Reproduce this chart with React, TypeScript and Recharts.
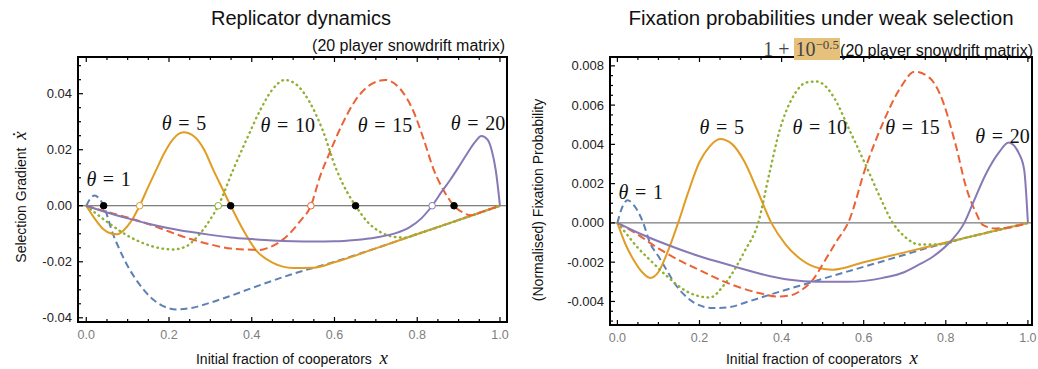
import React from "react";
import { LineChart, Line, XAxis, YAxis, ReferenceLine, ReferenceDot } from "recharts";

type Pt = [number, number];

const thetas = [1, 5, 10, 15, 20];

// Replicator dynamics (left panel), [x, selection gradient]
const repTheta1: Pt[] = [
  [0, 0], [0.01, 0.0026], [0.02, 0.0037], [0.03, 0.0028], [0.042, 0], [0.064, -0.0099],
  [0.081, -0.0158], [0.1, -0.0215], [0.12, -0.0263], [0.14, -0.0302], [0.16, -0.0333],
  [0.18, -0.0354], [0.2, -0.0366], [0.22, -0.037], [0.25, -0.0366], [0.3, -0.0346],
  [0.35, -0.0321], [0.4, -0.0294], [0.5, -0.0243], [0.6, -0.0200], [0.7, -0.0152],
  [0.8, -0.0101], [0.9, -0.0051], [1, 0],
];
const repTheta5: Pt[] = [
  [0, 0], [0.02, -0.0045], [0.04, -0.0082], [0.06, -0.0099], [0.075, -0.0102], [0.09, -0.0088],
  [0.11, -0.0052], [0.129, 0], [0.15, 0.0068], [0.169, 0.0128], [0.19, 0.0192], [0.21, 0.0238],
  [0.235, 0.0262], [0.26, 0.0248], [0.285, 0.02], [0.307, 0.0128], [0.33, 0.0058], [0.349, 0],
  [0.38, -0.0088], [0.41, -0.0158], [0.45, -0.0203], [0.5, -0.0222], [0.55, -0.0221],
  [0.6, -0.0202], [0.7, -0.0152], [0.8, -0.0101], [0.9, -0.0051], [1, 0],
];
const repTheta10: Pt[] = [
  [0, 0], [0.03, -0.0035], [0.06, -0.0068], [0.1, -0.0107], [0.14, -0.0135], [0.18, -0.0152],
  [0.21, -0.0156], [0.24, -0.0146], [0.27, -0.0108], [0.3, -0.0048], [0.319, 0], [0.355, 0.0128],
  [0.39, 0.0245], [0.42, 0.034], [0.45, 0.0415], [0.48, 0.0449], [0.51, 0.043], [0.54, 0.037],
  [0.57, 0.0275], [0.605, 0.0128], [0.63, 0.005], [0.651, 0], [0.68, -0.0058], [0.71, -0.0093],
  [0.74, -0.011], [0.77, -0.0114], [0.8, -0.0101], [0.9, -0.0051], [1, 0],
];
const repTheta15: Pt[] = [
  [0, 0], [0.05, -0.0022], [0.1, -0.0042], [0.15, -0.0065], [0.2, -0.0092], [0.25, -0.0118],
  [0.3, -0.0138], [0.35, -0.0153], [0.4, -0.0157], [0.42, -0.0158], [0.44, -0.015], [0.48, -0.0115],
  [0.517, -0.0055], [0.543, 0], [0.565, 0.0104], [0.59, 0.0195], [0.62, 0.0295], [0.65, 0.0375],
  [0.69, 0.0435], [0.723, 0.0449], [0.76, 0.0415], [0.79, 0.034], [0.815, 0.024], [0.84, 0.0128],
  [0.865, 0.0052], [0.889, 0], [0.91, -0.0024], [0.93, -0.0034], [0.96, -0.002], [1, 0],
];
const repTheta20: Pt[] = [
  [0, 0], [0.05, -0.0024], [0.1, -0.0045], [0.15, -0.0064], [0.2, -0.008], [0.25, -0.0093],
  [0.3, -0.0104], [0.35, -0.0113], [0.4, -0.0119], [0.45, -0.0124], [0.5, -0.0127], [0.55, -0.0128],
  [0.6, -0.0127], [0.65, -0.0122], [0.7, -0.0113], [0.75, -0.0097], [0.78, -0.0078], [0.81, -0.0045],
  [0.836, 0], [0.86, 0.0052], [0.88, 0.0093], [0.9, 0.0138], [0.92, 0.0185], [0.94, 0.0228],
  [0.955, 0.0249], [0.97, 0.0236], [0.98, 0.0198], [0.99, 0.0125], [1, 0],
];

// Fixation probabilities (right panel), [x, normalised fixation probability]
const fixTheta1: Pt[] = [
  [0, 0], [0.01, 0.0007], [0.025, 0.00115], [0.04, 0.0009], [0.063, 0], [0.079, -0.001],
  [0.1, -0.0017], [0.12, -0.0024], [0.14, -0.0031], [0.16, -0.0036], [0.19, -0.0041],
  [0.233, -0.00434], [0.27, -0.0043], [0.32, -0.004], [0.38, -0.0036], [0.476, -0.003],
  [0.54, -0.0026], [0.606, -0.0022], [0.687, -0.0017], [0.768, -0.0012], [0.85, -0.00075],
  [0.92, -0.0004], [1, 0],
];
const fixTheta5: Pt[] = [
  [0, 0], [0.02, -0.0011], [0.04, -0.0019], [0.06, -0.0025], [0.08, -0.0028], [0.1, -0.0025],
  [0.12, -0.0016], [0.148, 0], [0.17, 0.0014], [0.2, 0.0031], [0.225, 0.0039], [0.25, 0.00427],
  [0.28, 0.004], [0.31, 0.0031], [0.34, 0.0017], [0.375, 0], [0.41, -0.0011], [0.45, -0.0019],
  [0.49, -0.0023], [0.525, -0.00238], [0.6, -0.002], [0.7, -0.0015], [0.8, -0.001],
  [0.9, -0.0005], [1, 0],
];
const fixTheta10: Pt[] = [
  [0, 0], [0.02, -0.0005], [0.047, -0.0012], [0.08, -0.0019], [0.12, -0.0027], [0.17, -0.0035],
  [0.225, -0.0038], [0.262, -0.0031], [0.311, -0.0014], [0.343, 0], [0.37, 0.0025], [0.395, 0.0047],
  [0.43, 0.0065], [0.46, 0.00715], [0.485, 0.0072], [0.51, 0.0069], [0.53, 0.0063], [0.566, 0.0047],
  [0.606, 0.0029], [0.64, 0.0013], [0.671, 0], [0.7, -0.0007], [0.736, -0.0011], [0.78, -0.0011],
  [0.85, -0.00075], [0.92, -0.0004], [1, 0],
];
const fixTheta15: Pt[] = [
  [0, 0], [0.05, -0.0006], [0.1, -0.0013], [0.15, -0.0019], [0.2, -0.0024], [0.25, -0.0029],
  [0.3, -0.0033], [0.35, -0.0036], [0.387, -0.00375], [0.42, -0.0037], [0.45, -0.0034],
  [0.476, -0.0029], [0.509, -0.0018], [0.535, -0.0009], [0.562, 0], [0.606, 0.0029],
  [0.647, 0.0051], [0.69, 0.0069], [0.724, 0.0077], [0.76, 0.0074], [0.785, 0.0066],
  [0.825, 0.0039], [0.849, 0.00185], [0.874, 0.0005], [0.89, -0.0001], [0.92, -0.00028],
  [0.95, -0.00025], [1, 0],
];
const fixTheta20: Pt[] = [
  [0, 0], [0.05, -0.0005], [0.12, -0.0011], [0.2, -0.0017], [0.282, -0.0022], [0.35, -0.0026],
  [0.42, -0.0029], [0.485, -0.003], [0.56, -0.003], [0.647, -0.0028], [0.7, -0.0025],
  [0.728, -0.0022], [0.77, -0.0017], [0.809, -0.001], [0.845, 0], [0.866, 0.001], [0.898, 0.0025],
  [0.93, 0.0036], [0.953, 0.0041], [0.979, 0.0035], [0.991, 0.0027], [1, 0],
];

// equilibria on the zero line (left panel)
const repStable = [0.042, 0.349, 0.651, 0.889];
const repUnstable = [0.129, 0.319, 0.543, 0.836];

// theta label anchors, data units
const repLabelX = [0.054, 0.236, 0.487, 0.722, 0.947];
const repLabelY = [0.0092, 0.0292, 0.0285, 0.0285, 0.0292];
const fixLabelX = [0.057, 0.254, 0.493, 0.719, 0.938];
const fixLabelY = [0.00153, 0.00483, 0.00483, 0.00483, 0.00438];

// ticks
const xMajor = [0, 0.2, 0.4, 0.6, 0.8, 1];
const repYMajor = [-0.04, -0.02, 0, 0.02, 0.04];
const fixYMajor = [-0.004, -0.002, 0, 0.002, 0.004, 0.006, 0.008];

const steps = (a: number, b: number, s: number) => {
  const out: number[] = [];
  const n = Math.round((b - a) / s);
  for (let i = 0; i <= n; i++) out.push(+(a + i * s).toFixed(6));
  return out;
};
const xTicks = steps(0, 1, 0.05);
const repYTicks = steps(-0.04, 0.05, 0.005);
const fixYTicks = steps(-0.005, 0.008, 0.0005);

const colors = ["#5e81b5", "#e19c24", "#8fb032", "#eb6235", "#8778b6"];
const dashes = ["7 4", undefined, "0.6 4.6", "8 4", undefined];
const caps: ("butt" | "round")[] = ["butt", "butt", "round", "butt", "butt"];

const SANS = '"Liberation Sans", Arial, Helvetica, sans-serif';
const SERIF = '"Liberation Serif", "Times New Roman", serif';

// recharts puts the tick text tickSize + tickMargin away from the axis line
const TICK_SIZE = 6;
const TICK_MARGIN = 2;
const OFF = TICK_SIZE + TICK_MARGIN;

const isIn = (v: number, list: number[]) => list.some((m) => Math.abs(m - v) < 1e-9);

function BottomTick(props: any) {
  const { x, y, payload, majors } = props;
  const major = isIn(payload.value, majors);
  const ay = Number(y) - OFF;
  return (
    <g>
      <line x1={x} x2={x} y1={ay} y2={ay - (major ? 5 : 3)} stroke="#000" strokeWidth={1.2} />
      {major && (
        <text x={x} y={ay + 17} textAnchor="middle" fontSize={12.5} fill="#7d7d7d" fontFamily={SANS}>
          {payload.value.toFixed(1)}
        </text>
      )}
    </g>
  );
}

function TopTick(props: any) {
  const { x, y, payload, majors } = props;
  const ay = Number(y) + OFF;
  return <line x1={x} x2={x} y1={ay} y2={ay + (isIn(payload.value, majors) ? 5 : 3)} stroke="#000" strokeWidth={1.2} />;
}

function LeftTick(props: any) {
  const { x, y, payload, majors, digits } = props;
  const major = isIn(payload.value, majors);
  const ax = Number(x) + OFF;
  return (
    <g>
      <line x1={ax} x2={ax + (major ? 5 : 3)} y1={y} y2={y} stroke="#000" strokeWidth={1.2} />
      {major && (
        <text x={ax - 6} y={y} dy="0.35em" textAnchor="end" fontSize={13} fill="#222" fontFamily={SANS}>
          {payload.value.toFixed(digits)}
        </text>
      )}
    </g>
  );
}

function RightTick(props: any) {
  const { x, y, payload, majors } = props;
  const ax = Number(x) - OFF;
  return <line x1={ax} x2={ax - (isIn(payload.value, majors) ? 5 : 3)} y1={y} y2={y} stroke="#000" strokeWidth={1.2} />;
}

function ThetaText({ cx, cy, n }: { cx: number; cy: number; n: number }) {
  return (
    <text x={cx} y={cy} dy="0.32em" textAnchor="middle" fontFamily={SERIF} fontSize={20} fill="#111">
      <tspan fontStyle="italic">θ</tspan>
      <tspan>{"\u2004=\u2004"}{n}</tspan>
    </text>
  );
}

// one table row per x value, one column per theta curve
function toRows(series: Pt[][]) {
  const byX = new Map<number, Record<string, number>>();
  series.forEach((s, i) =>
    s.forEach(([x, y]) => {
      const row = byX.get(x) ?? { x };
      row["s" + i] = y;
      byX.set(x, row);
    })
  );
  return [...byX.values()].sort((a, b) => a.x - b.x);
}

type PanelProps = {
  width: number;
  margin: { top: number; right: number; bottom: number; left: number };
  xDomain: [number, number];
  yDomain: [number, number];
  yTicks: number[];
  yMajor: number[];
  yDigits: number;
  yWidth: number;
  series: Pt[][];
  labelX: number[];
  labelY: number[];
  withDots?: boolean;
};

const frame = { stroke: "#000", strokeWidth: 2 };

function Panel(p: PanelProps) {
  const rows = toRows(p.series);
  return (
    <LineChart width={p.width} height={369} margin={p.margin} data={rows}>
      <XAxis
        dataKey="x" type="number" orientation="bottom" height={30}
        domain={p.xDomain} ticks={xTicks} interval={0}
        tickSize={TICK_SIZE} tickMargin={TICK_MARGIN} tickLine={false} axisLine={frame}
        tick={<BottomTick majors={xMajor} />}
      />
      <XAxis
        xAxisId="t" dataKey="x" type="number" orientation="top" height={30}
        domain={p.xDomain} ticks={xTicks} interval={0}
        tickSize={TICK_SIZE} tickMargin={TICK_MARGIN} tickLine={false} axisLine={frame}
        tick={<TopTick majors={xMajor} />}
      />
      <YAxis
        type="number" orientation="left" width={p.yWidth}
        domain={p.yDomain} ticks={p.yTicks} interval={0}
        tickSize={TICK_SIZE} tickMargin={TICK_MARGIN} tickLine={false} axisLine={frame}
        tick={<LeftTick majors={p.yMajor} digits={p.yDigits} />}
      />
      <YAxis
        yAxisId="r" type="number" orientation="right" width={6}
        domain={p.yDomain} ticks={p.yTicks} interval={0}
        tickSize={TICK_SIZE} tickMargin={TICK_MARGIN} tickLine={false} axisLine={frame}
        tick={<RightTick majors={p.yMajor} />}
      />
      <ReferenceLine y={0} stroke="#5a5a5a" strokeWidth={1} />
      {p.series.map((_, i) => (
        <Line
          key={thetas[i]}
          dataKey={"s" + i}
          connectNulls
          type="monotone"
          stroke={colors[i]}
          strokeWidth={i === 2 ? 2.4 : 2}
          strokeDasharray={dashes[i]}
          strokeLinecap={caps[i]}
          dot={false}
          activeDot={false}
          isAnimationActive={false}
        />
      ))}
      {p.withDots &&
        repUnstable.map((x, i) => (
          <ReferenceDot key={"u" + i} x={x} y={0} r={3.3} fill="#fff" stroke={colors[i + 1]} strokeWidth={1} />
        ))}
      {p.withDots &&
        repStable.map((x, i) => (
          <ReferenceDot key={"s" + i} x={x} y={0} r={3.3} fill="#000" stroke="#000" strokeWidth={1} />
        ))}
      {thetas.map((n, i) => (
        <ReferenceDot
          key={"l" + n} x={p.labelX[i]} y={p.labelY[i]} r={0} ifOverflow="visible"
          shape={(sp: any) => <ThetaText cx={sp.cx} cy={sp.cy} n={n} />}
        />
      ))}
    </LineChart>
  );
}

const abs = (s: React.CSSProperties): React.CSSProperties => ({ position: "absolute", whiteSpace: "nowrap", ...s });

// plot boxes that follow from the margins and axis sizes below
const box = (left: number, top: number, right: number, bottom: number): React.CSSProperties => ({
  position: "absolute",
  left: left - 1,
  top: top - 1,
  width: right - left + 2,
  height: bottom - top + 2,
  border: "2px solid #000",
  boxSizing: "border-box",
  pointerEvents: "none",
});

export default function App() {
  return (
    <div style={{ position: "absolute", left: 0, top: 0, width: 1038, height: 369, background: "#fff", overflow: "hidden", fontFamily: SANS, color: "#111" }}>
      <div style={abs({ left: 0, top: 0 })}>
        <Panel
          width={520}
          margin={{ top: 27, right: 7, bottom: 17, left: 18 }}
          xDomain={[-0.02, 1.017]}
          yDomain={[-0.0415, 0.0531]}
          yTicks={repYTicks}
          yMajor={repYMajor}
          yDigits={2}
          yWidth={60}
          series={[repTheta1, repTheta5, repTheta10, repTheta15, repTheta20]}
          labelX={repLabelX}
          labelY={repLabelY}
          withDots
        />
      </div>
      <div style={abs({ left: 520, top: 0 })}>
        <Panel
          width={518}
          margin={{ top: 27, right: 0, bottom: 14, left: 40 }}
          xDomain={[-0.018, 1.01]}
          yDomain={[-0.0052, 0.00845]}
          yTicks={fixYTicks}
          yMajor={fixYMajor}
          yDigits={3}
          yWidth={50}
          series={[fixTheta1, fixTheta5, fixTheta10, fixTheta15, fixTheta20]}
          labelX={fixLabelX}
          labelY={fixLabelY}
        />
      </div>

      {/* frame boxes: left plot 78..507 x 57..322, right plot 610..1032 x 57..325 */}
      <div style={box(78, 57, 507, 322)} />
      <div style={box(610, 57, 1032, 325)} />

      <div style={abs({ left: 301, top: 18, transform: "translate(-50%, -50%)", fontSize: 20 })}>Replicator dynamics</div>
      <div style={abs({ right: 533, top: 36, fontSize: 16, lineHeight: "19px" })}>(20 player snowdrift matrix)</div>

      <div style={abs({ left: 821, top: 18, transform: "translate(-50%, -50%)", fontSize: 20.5 })}>
        Fixation probabilities under weak selection
      </div>
      <div style={abs({ right: 5, top: 34, fontSize: 16, lineHeight: "22px" })}>
        <span style={{ fontFamily: SERIF, fontSize: 20, color: "#444" }}>
          1 + <span style={{ background: "#e6c17c", padding: "0 1px" }}>10<sup style={{ fontSize: 13, verticalAlign: "7px" }}>−0.5</sup></span>
        </span>
        (20 player snowdrift matrix)
      </div>

      <div style={abs({ left: 292, top: 358, transform: "translate(-50%, -50%)", fontSize: 14 })}>
        Initial fraction of cooperators&nbsp;&nbsp;<span style={{ fontFamily: SERIF, fontStyle: "italic", fontSize: 19 }}>x</span>
      </div>
      <div style={abs({ left: 822, top: 358, transform: "translate(-50%, -50%)", fontSize: 14 })}>
        Initial fraction of cooperators&nbsp;&nbsp;<span style={{ fontFamily: SERIF, fontStyle: "italic", fontSize: 19 }}>x</span>
      </div>

      <div style={abs({ left: 20, top: 197, transform: "translate(-50%, -50%) rotate(-90deg)", fontSize: 14 })}>
        Selection Gradient&nbsp;&nbsp;<span style={{ fontFamily: SERIF, fontStyle: "italic", fontSize: 19 }}>ẋ</span>
      </div>
      <div style={abs({ left: 538, top: 200, transform: "translate(-50%, -50%) rotate(-90deg)", fontSize: 14 })}>
        (Normalised) Fixation Probability
      </div>
    </div>
  );
}
